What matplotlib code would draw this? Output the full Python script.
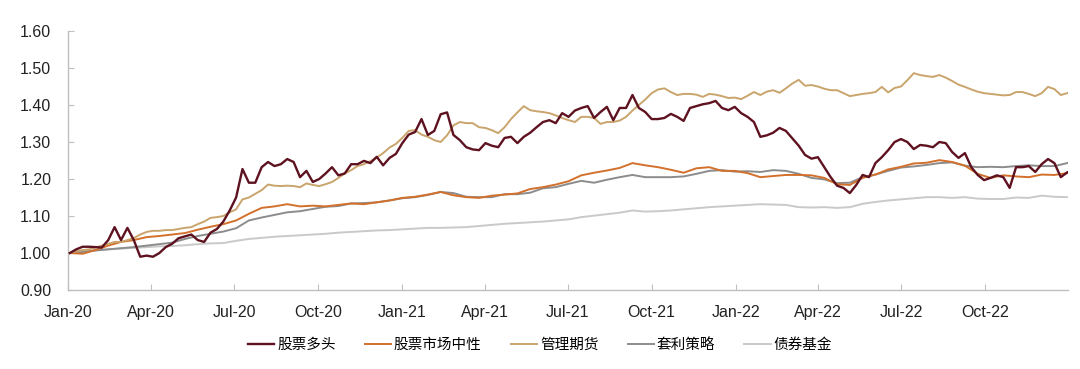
import matplotlib
matplotlib.use("Agg")
import matplotlib.pyplot as plt
import matplotlib.dates as mdates
import pandas as pd

plt.rcParams['font.family'] = ['Liberation Sans', 'Noto Sans CJK SC', 'DejaVu Sans']

# weekly series (jagged ones)
weeks = pd.date_range('2020-01-03', '2022-12-30', freq='W-FRI')
# biweekly series (smooth ones)
biweeks = pd.date_range('2020-01-03', '2022-12-30', freq='2W-FRI')

stock_long = [
    1.000, 1.010, 1.017, 1.017, 1.016, 1.015, 1.035, 1.070, 1.035, 1.068,
    1.035, 0.990, 0.993, 0.990, 1.000, 1.016, 1.025, 1.040, 1.045, 1.050,
    1.035, 1.030, 1.055, 1.065, 1.085, 1.115, 1.150, 1.227, 1.190, 1.190,
    1.232, 1.246, 1.235, 1.240, 1.254, 1.246, 1.205, 1.222, 1.192, 1.200,
    1.215, 1.232, 1.210, 1.215, 1.240, 1.240, 1.249, 1.243, 1.260, 1.237,
    1.257, 1.268, 1.297, 1.320, 1.327, 1.362, 1.319, 1.330, 1.375, 1.380,
    1.319, 1.305, 1.286, 1.280, 1.278, 1.297, 1.290, 1.286, 1.311, 1.314,
    1.297, 1.314, 1.325, 1.340, 1.354, 1.359, 1.351, 1.378, 1.368, 1.385,
    1.392, 1.397, 1.365, 1.381, 1.395, 1.359, 1.392, 1.392, 1.427, 1.392,
    1.381, 1.362, 1.362, 1.365, 1.376, 1.368, 1.357, 1.392, 1.397, 1.402,
    1.405, 1.411, 1.392, 1.386, 1.395, 1.378, 1.368, 1.354, 1.314, 1.318,
    1.325, 1.338, 1.330, 1.310, 1.290, 1.265, 1.255, 1.259, 1.232, 1.205,
    1.182, 1.176, 1.162, 1.184, 1.211, 1.205, 1.243, 1.259, 1.278, 1.300,
    1.308, 1.300, 1.281, 1.292, 1.290, 1.286, 1.300, 1.297, 1.273, 1.257,
    1.270, 1.232, 1.211, 1.197, 1.203, 1.210, 1.205, 1.176, 1.232, 1.232,
    1.235, 1.219, 1.240, 1.254, 1.243, 1.205, 1.218,
]

managed_futures = [
    1.000, 1.005, 1.008, 1.010, 1.015, 1.020, 1.025, 1.030, 1.030, 1.035,
    1.040, 1.050, 1.057, 1.060, 1.060, 1.062, 1.062, 1.065, 1.068, 1.070,
    1.078, 1.085, 1.095, 1.097, 1.100, 1.110, 1.118, 1.145, 1.150, 1.160,
    1.170, 1.185, 1.182, 1.181, 1.182, 1.181, 1.178, 1.188, 1.184, 1.181,
    1.186, 1.192, 1.203, 1.215, 1.224, 1.235, 1.240, 1.248, 1.258, 1.270,
    1.285, 1.295, 1.311, 1.330, 1.332, 1.320, 1.314, 1.305, 1.300, 1.318,
    1.345, 1.354, 1.351, 1.351, 1.340, 1.338, 1.332, 1.324, 1.340, 1.362,
    1.380, 1.397, 1.386, 1.383, 1.381, 1.378, 1.372, 1.365, 1.359, 1.354,
    1.368, 1.368, 1.365, 1.349, 1.354, 1.354, 1.358, 1.368, 1.385, 1.400,
    1.415, 1.432, 1.442, 1.445, 1.435, 1.427, 1.430, 1.430, 1.428, 1.422,
    1.430, 1.428, 1.424, 1.419, 1.420, 1.416, 1.425, 1.435, 1.427, 1.436,
    1.440, 1.433, 1.445, 1.458, 1.468, 1.452, 1.454, 1.450, 1.444, 1.440,
    1.440, 1.432, 1.424, 1.427, 1.430, 1.432, 1.435, 1.449, 1.434, 1.446,
    1.450, 1.467, 1.486, 1.481, 1.478, 1.476, 1.481, 1.474, 1.465, 1.455,
    1.449, 1.442, 1.436, 1.432, 1.430, 1.428, 1.426, 1.427, 1.435, 1.435,
    1.430, 1.424, 1.432, 1.449, 1.443, 1.427, 1.432,
]

market_neutral = [
    1.000, 0.998, 1.008, 1.020, 1.030, 1.035, 1.043, 1.046, 1.050, 1.054,
    1.063, 1.071, 1.078, 1.088, 1.106, 1.122, 1.126, 1.132, 1.126, 1.128,
    1.126, 1.130, 1.134, 1.132, 1.137, 1.142, 1.149, 1.152, 1.158, 1.165,
    1.156, 1.151, 1.149, 1.155, 1.158, 1.161, 1.173, 1.178, 1.185, 1.194,
    1.210, 1.217, 1.223, 1.230, 1.243, 1.237, 1.232, 1.225, 1.217, 1.229,
    1.232, 1.222, 1.222, 1.216, 1.205, 1.208, 1.211, 1.211, 1.210, 1.203,
    1.186, 1.184, 1.203, 1.212, 1.226, 1.233, 1.242, 1.244, 1.251, 1.246,
    1.236, 1.214, 1.203, 1.210, 1.207, 1.205, 1.212, 1.211, 1.216,
]

arbitrage = [
    1.000, 1.003, 1.007, 1.010, 1.013, 1.016, 1.020, 1.024, 1.028, 1.038,
    1.046, 1.052, 1.058, 1.067, 1.088, 1.096, 1.103, 1.110, 1.113, 1.119,
    1.125, 1.127, 1.134, 1.135, 1.137, 1.142, 1.148, 1.151, 1.157, 1.165,
    1.162, 1.152, 1.151, 1.151, 1.159, 1.159, 1.163, 1.175, 1.178, 1.187,
    1.195, 1.190, 1.198, 1.205, 1.211, 1.205, 1.205, 1.205, 1.207, 1.214,
    1.222, 1.224, 1.220, 1.221, 1.219, 1.224, 1.222, 1.214, 1.203, 1.199,
    1.189, 1.190, 1.205, 1.212, 1.222, 1.231, 1.234, 1.238, 1.243, 1.245,
    1.236, 1.232, 1.233, 1.232, 1.235, 1.237, 1.235, 1.235, 1.243,
]

bond_fund = [
    1.000, 1.004, 1.007, 1.010, 1.012, 1.014, 1.016, 1.018, 1.019, 1.021,
    1.024, 1.026, 1.027, 1.033, 1.038, 1.041, 1.044, 1.046, 1.048, 1.050,
    1.052, 1.055, 1.057, 1.059, 1.061, 1.062, 1.064, 1.066, 1.068, 1.068,
    1.069, 1.070, 1.073, 1.076, 1.079, 1.081, 1.083, 1.085, 1.088, 1.091,
    1.097, 1.101, 1.105, 1.109, 1.115, 1.112, 1.113, 1.115, 1.118, 1.121,
    1.124, 1.126, 1.128, 1.130, 1.132, 1.131, 1.130, 1.124, 1.123, 1.124,
    1.122, 1.124, 1.133, 1.138, 1.142, 1.145, 1.148, 1.151, 1.151, 1.149,
    1.151, 1.147, 1.146, 1.146, 1.150, 1.149, 1.155, 1.152, 1.151,
]

labels = ['股票多头', '股票市场中性', '管理期货', '套利策略', '债券基金']
colors = ['#5e1220', '#d2702c', '#c9a46c', '#8c8c8c', '#c9c9c9']

fig = plt.figure(figsize=(10.8, 3.69), dpi=100)
ax = fig.add_axes([0.063, 0.214, 0.926, 0.702])

h1, = ax.plot(weeks, stock_long, color=colors[0], lw=1.7, zorder=5)
h2, = ax.plot(biweeks, market_neutral, color=colors[1], lw=1.4, zorder=3)
h3, = ax.plot(weeks, managed_futures, color=colors[2], lw=1.4, zorder=4)
h4, = ax.plot(biweeks, arbitrage, color=colors[3], lw=1.4, zorder=2)
h5, = ax.plot(biweeks, bond_fund, color=colors[4], lw=1.4, zorder=1)

ax.set_ylim(0.90, 1.60)
ax.set_yticks([0.90, 1.00, 1.10, 1.20, 1.30, 1.40, 1.50, 1.60])
ax.yaxis.set_major_formatter(plt.FormatStrFormatter('%.2f'))
ax.set_xlim(pd.Timestamp('2020-01-01'), pd.Timestamp('2022-12-31'))
ax.xaxis.set_major_locator(mdates.MonthLocator(bymonth=[1, 4, 7, 10]))
ax.xaxis.set_major_formatter(mdates.DateFormatter('%b-%y'))

for side in ['top', 'right']:
    ax.spines[side].set_visible(False)
for side in ['left', 'bottom']:
    ax.spines[side].set_color('#bfbfbf')
    ax.spines[side].set_linewidth(1.0)
ax.tick_params(direction='in', length=4, color='#bfbfbf', labelsize=11.5,
               labelcolor='#222222')
ax.tick_params(axis='y', pad=12)
ax.tick_params(axis='x', pad=11)

fig.legend([h1, h2, h3, h4, h5], labels, loc='center', bbox_to_anchor=(0.5, 0.065),
           ncol=5, frameon=False, fontsize=10.5, handlelength=1.8,
           handletextpad=0.2, columnspacing=2.0)

fig.savefig('out.png', dpi=100)
